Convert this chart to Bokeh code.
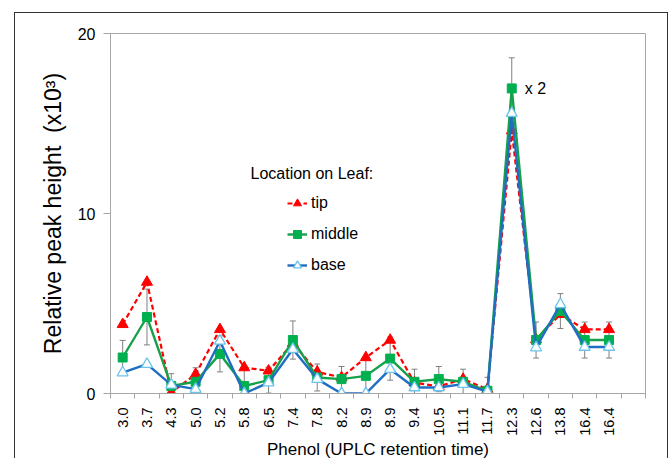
import math
from bokeh.plotting import figure
from bokeh.models import (FixedTicker, Legend, LegendItem, Label, Whisker, TeeHead,
                          ColumnDataSource, Range1d)
from bokeh.embed import file_html
from bokeh.resources import INLINE

# ---- data ----
labels = ["3.0", "3.7", "4.3", "5.0", "5.2", "5.8", "6.5", "7.4", "7.8", "8.2", "8.9",
          "8.9", "9.4", "10.5", "11.1", "11.7", "12.3", "12.6", "13.8", "16.4", "16.4"]
tip = [3.84, 6.19, 0.05, 1.07, 3.56, 1.44, 1.26, 2.8, 1.2, 0.89, 2.0,
       2.97, 0.6, 0.4, 0.8, 0.24, 14.6, 3.0, 4.4, 3.56, 3.56]
middle = [2.0, 4.25, 0.42, 0.65, 2.2, 0.42, 0.74, 2.97, 0.89, 0.8, 0.98,
          1.94, 0.65, 0.8, 0.65, 0.15, 16.95, 2.97, 4.58, 2.97, 2.97]
base = [1.16, 1.63, 0.48, 0.24, 2.92, 0.0, 0.6, 2.46, 0.8, 0.0, 0.0,
        1.35, 0.33, 0.33, 0.52, 0.1, 15.57, 2.55, 4.95, 2.58, 2.58]
middle_err = [0.95, 1.55, 0.68, 0.78, 1.0, 0.9, 0.72, 1.06, 0.75, 0.7, 1.0,
              1.2, 0.7, 0.7, 0.7, 0.75, 1.7, 1.0, 0.97, 1.0, 1.0]
y_ticks = [0, 10, 20]

xs = list(range(len(labels)))

p = figure(output_backend="svg", toolbar_location=None,
           frame_width=535, frame_height=360,
           min_border_left=95, min_border_right=22,
           min_border_top=20, min_border_bottom=65,
           x_range=Range1d(-0.5, 21.5), y_range=Range1d(0, 20))
p.margin = (12, 0, 0, 14)
p.styles = {"border-left": "1px solid #333333", "border-top": "1px solid #333333",
            "border-right": "1px solid #333333"}
p.background_fill_color = "white"
p.border_fill_color = "white"
p.outline_line_color = "#a6a6a6"
p.outline_line_width = 1
p.xgrid.visible = False
p.ygrid.visible = False

AX = "#a6a6a6"
FONT = "Liberation Sans"

# x axis
xa = p.xaxis[0]
xa.ticker = FixedTicker(ticks=xs, minor_ticks=[i - 0.5 for i in range(len(labels) + 2)])
xa.major_label_overrides = {i: l for i, l in enumerate(labels)}
xa.major_label_orientation = math.pi / 2
xa.major_tick_out = 0
xa.major_tick_in = 0
xa.minor_tick_out = 5
xa.minor_tick_in = 0
xa.minor_tick_line_color = AX
xa.axis_line_color = AX
xa.major_label_standoff = 9
xa.major_label_text_font = FONT
xa.major_label_text_font_size = "14.5px"
xa.major_label_text_color = "black"
xa.axis_label = "Phenol (UPLC retention time)"
xa.axis_label_text_font = FONT
xa.axis_label_text_font_size = "17px"
xa.axis_label_text_font_style = "normal"
xa.axis_label_text_color = "black"
xa.axis_label_standoff = 1

# y axis
ya = p.yaxis[0]
ya.ticker = FixedTicker(ticks=y_ticks, minor_ticks=[])
ya.major_tick_out = 7
ya.major_tick_in = 0
ya.major_tick_line_color = AX
ya.axis_line_color = AX
ya.major_label_standoff = 8
ya.major_label_text_font = FONT
ya.major_label_text_font_size = "16px"
ya.major_label_text_color = "black"
ya.axis_label = "Relative peak height\u00a0\u00a0(x10\u00b3)"
ya.axis_label_text_font = FONT
ya.axis_label_text_font_size = "23px"
ya.axis_label_text_font_style = "normal"
ya.axis_label_text_color = "black"
ya.axis_label_standoff = 9

src = ColumnDataSource(dict(x=xs, tip=tip, middle=middle, base=base,
                            lo=[m - e for m, e in zip(middle, middle_err)],
                            hi=[m + e for m, e in zip(middle, middle_err)]))

# tip
tl = p.line("x", "tip", source=src, line_color="#ff0000", line_width=2.2, line_dash="5 3")
ts = p.scatter("x", "tip", source=src, marker="triangle", size=11,
               fill_color="#ff0000", line_color="#ff0000")

# middle
ml = p.line("x", "middle", source=src, line_color="#16a04a", line_width=2.4)
ms = p.scatter("x", "middle", source=src, marker="square", size=9,
               fill_color="#00b050", line_color="#00b050")
wh = Whisker(source=src, base="x", lower="lo", upper="hi",
             line_color="#808080", line_width=1,
             lower_head=TeeHead(size=6, line_color="#808080", line_width=1),
             upper_head=TeeHead(size=6, line_color="#808080", line_width=1))
p.add_layout(wh)

# base
bl = p.line("x", "base", source=src, line_color="#1f6ec1", line_width=2.4)
bs = p.scatter("x", "base", source=src, marker="triangle", size=11,
               fill_color="white", line_color="#6cc4ee", line_width=1.3)

legend = Legend(items=[LegendItem(label="tip", renderers=[tl, ts]),
                       LegendItem(label="middle", renderers=[ml, ms]),
                       LegendItem(label="base", renderers=[bl, bs])],
                location=(177, 118), orientation="vertical",
                glyph_width=20, glyph_height=20, label_height=20,
                label_standoff=4, spacing=11, padding=0, margin=0,
                border_line_alpha=0, background_fill_alpha=0,
                label_text_font=FONT, label_text_font_size="16px",
                label_text_color="black")
p.add_layout(legend, "center")

p.add_layout(Label(x=140, y=220, x_units="screen", y_units="screen",
                   text="Location on Leaf:", text_font=FONT, text_font_size="16px",
                   text_baseline="middle", text_color="black"))

p.add_layout(Label(x=16, y=middle[16], x_offset=13, text="x 2", text_font=FONT,
                   text_font_size="16px", text_baseline="middle", text_color="black"))

open("out.html", "w").write(file_html(p, INLINE))
